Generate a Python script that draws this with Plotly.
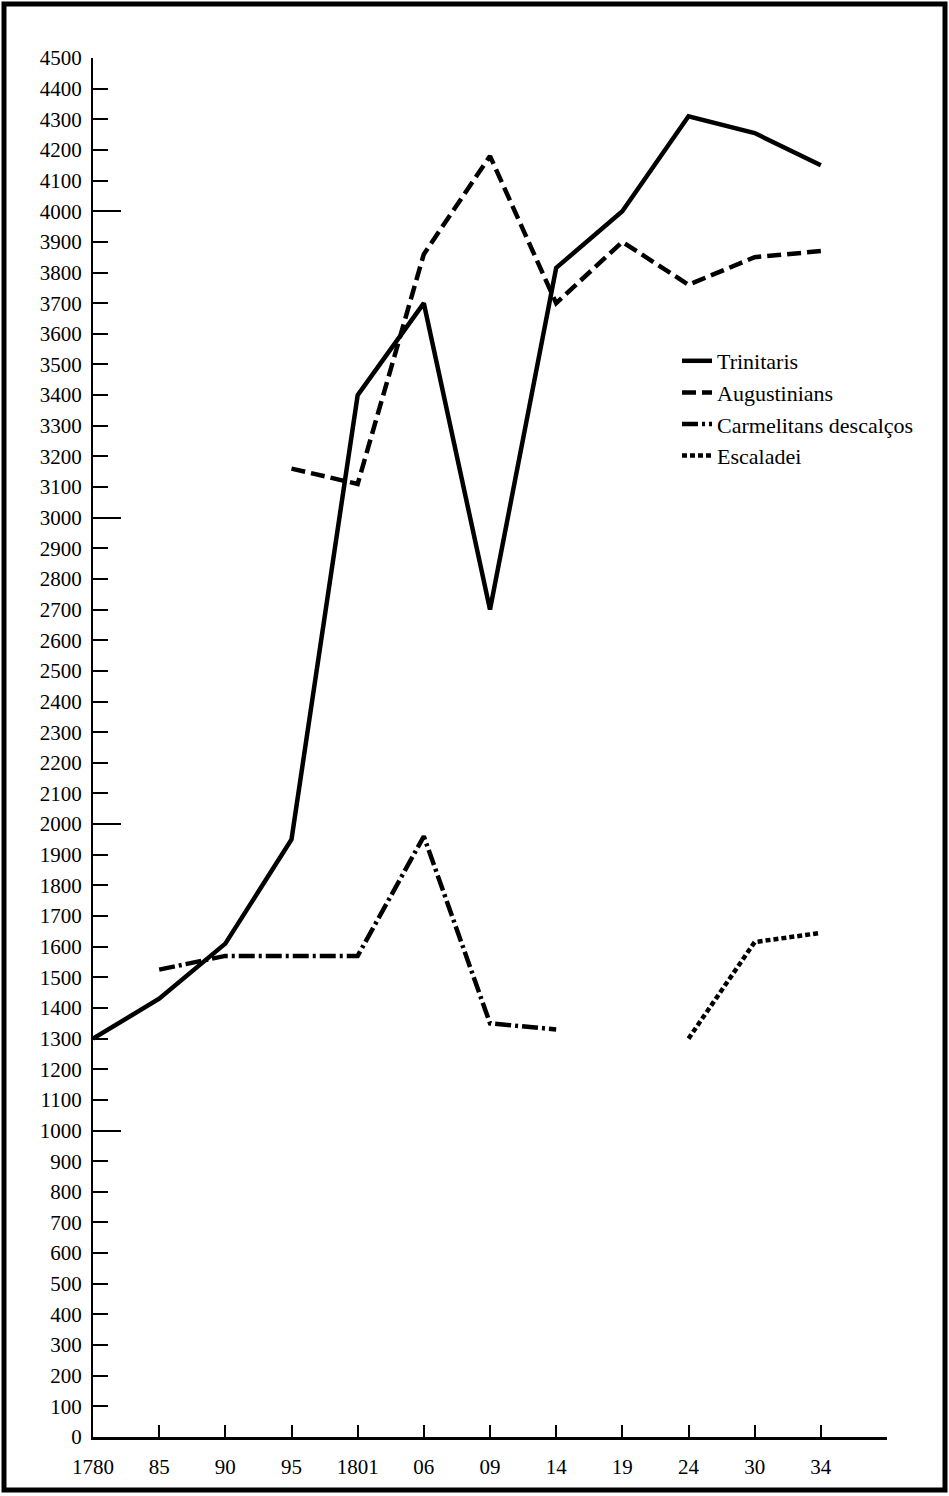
import plotly.graph_objects as go

# ---- data ----
x_labels = ["1780", "85", "90", "95", "1801", "06", "09", "14", "19", "24", "30", "34", " "]
years = x_labels[:12]

trinitaris = [1300, 1430, 1610, 1950, 3400, 3700, 2700, 3815, 4000, 4310, 4255, 4150]
augustinians = [None, None, None, 3160, 3110, 3860, 4180, 3700, 3900, 3760, 3850, 3870]
carmelitans = [None, 1525, 1570, 1570, 1570, 1960, 1350, 1330, None, None, None, None]
escaladei = [None, None, None, None, None, None, None, None, None, 1300, 1615, 1645]

y_ticks = list(range(0, 4600, 100))
y_major = [1000, 2000, 3000, 4000]

FONT = "Liberation Serif, DejaVu Serif, serif"
W, H = 949, 1496
ML, MR, MT, MB = 93, 62, 58, 59
PW, PH = W - ML - MR, H - MT - MB

fig = go.Figure()

series = [
    ("Trinitaris", trinitaris, "solid"),
    ("Augustinians", augustinians, "14px,6px"),
    ("Carmelitans descalços", carmelitans, "16px,4px,3px,4px"),
    ("Escaladei", escaladei, "5px,3px"),
]
for name, vals, dash in series:
    fig.add_trace(go.Scatter(
        x=years, y=vals, name=name, mode="lines",
        line=dict(color="black", width=4.5, dash=dash),
        connectgaps=False,
    ))

# invisible trace for the overlay axis with long ticks
fig.add_trace(go.Scatter(x=years, y=[None] * len(years), yaxis="y2",
                         showlegend=False, hoverinfo="skip"))

fig.update_layout(
    width=W, height=H,
    margin=dict(l=ML, r=MR, t=MT, b=MB),
    paper_bgcolor="white", plot_bgcolor="white",
    font=dict(family=FONT, color="black", size=21),
    showlegend=True,
    legend=dict(
        x=(677 - ML) / PW, y=1 - (340 - MT) / PH,
        xanchor="left", yanchor="top",
        bgcolor="rgba(0,0,0,0)",
        font=dict(family=FONT, size=22, color="black"),
        itemwidth=30,
    ),
    xaxis=dict(
        type="category", categoryorder="array", categoryarray=x_labels,
        range=[0, 12],
        showgrid=False, zeroline=False,
        showline=True, linecolor="black", linewidth=3,
        ticks="inside", ticklen=12, tickwidth=2, tickcolor="black",
        tickfont=dict(family=FONT, size=21, color="black"),
        ticklabelstandoff=9,
    ),
    yaxis=dict(
        range=[0, 4500],
        tickvals=y_ticks, ticktext=[str(v) for v in y_ticks],
        showgrid=False, zeroline=False,
        showline=True, linecolor="black", linewidth=2,
        ticks="inside", ticklen=15, tickwidth=2, tickcolor="black",
        tickfont=dict(family=FONT, size=21, color="black"),
        ticklabelstandoff=5,
    ),
    yaxis2=dict(
        range=[0, 4500], overlaying="y", side="left", anchor="x",
        tickvals=y_major, showticklabels=False,
        showgrid=False, zeroline=False, showline=False,
        ticks="inside", ticklen=28, tickwidth=2, tickcolor="black",
    ),
    shapes=[dict(
        type="rect", xref="paper", yref="paper",
        x0=(4 - ML) / PW, x1=(945 - ML) / PW,
        y0=1 - (1490 - MT) / PH, y1=1 - (4 - MT) / PH,
        line=dict(color="black", width=5), fillcolor="rgba(0,0,0,0)",
        layer="above",
    )],
)

fig.write_html(
    "out.html",
    config={"displayModeBar": False},
    post_script="document.body.style.margin='0';document.body.style.overflow='hidden';",
)
